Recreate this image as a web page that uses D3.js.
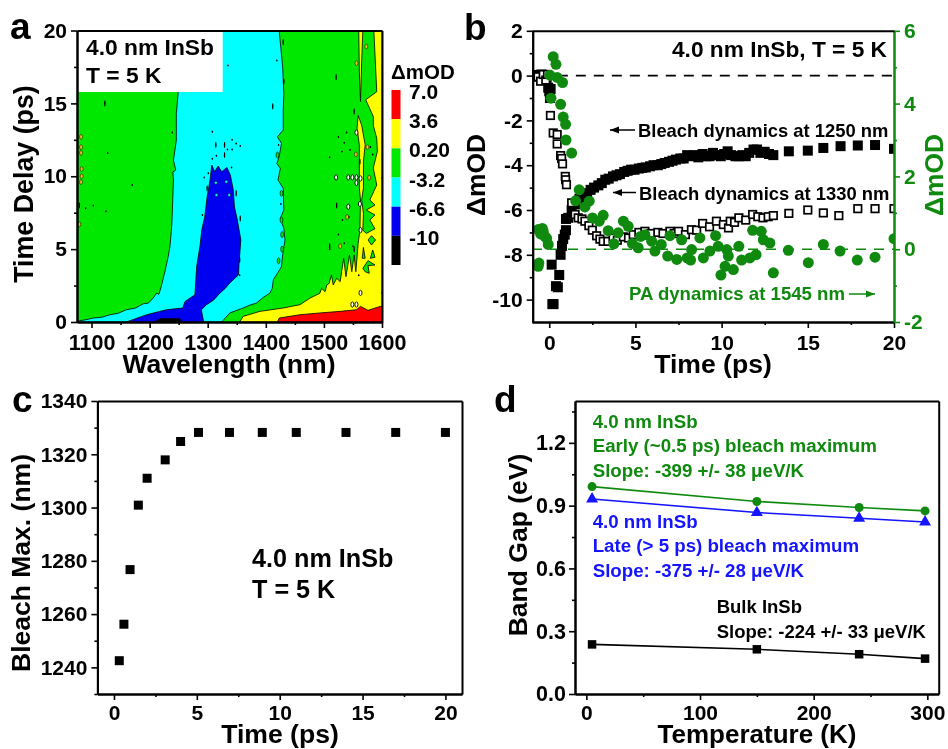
<!DOCTYPE html>
<html>
<head>
<meta charset="utf-8">
<script src="https://d3js.org/d3.v7.min.js"></script>
<style>
html, body { margin: 0; padding: 0; background: #fff; }
svg { filter: blur(0.45px); }
text { font-family: "Liberation Sans", Arial, sans-serif; font-weight: bold; }
</style>
</head>
<body>
<svg id="chart" width="948" height="749"></svg>
<script>
// panel a, contour bands as [wavelength nm, delay ps]
var cyanBand = [[1075,0],[1075,0.05],[1088,0.14],[1103,0.27],[1118,0.33],[1132,0.5],[1146,0.6],[1160,0.84],[1175,0.95],[1189,1.25],[1198,1.3],[1206,1.64],[1212,1.98],[1216,1.9],[1220,2.44],[1227,3.58],[1232,4.49],[1235,5.18],[1238,6.55],[1239,7.46],[1241,9.74],[1240,10.3],[1245,10.42],[1241,11.1],[1246,12.47],[1246,14.3],[1249,15.67],[1255,20],[1423,20],[1429,17.5],[1431,15.67],[1430,14.5],[1430,13.17],[1420,12.7],[1427,12.26],[1423,11.34],[1419,10.88],[1425,10.54],[1421,9.74],[1430,9.17],[1431,7.68],[1425,7.11],[1431,6.43],[1433,5.63],[1429,4.6],[1427,3.8],[1421,3.4],[1413,2.9],[1411,2.3],[1407,1.98],[1396,1.7],[1384,1.3],[1372,1.15],[1361,0.96],[1338,0.62],[1324,0]];
var blueBand = [[1160,0],[1195,0.5],[1229,0.84],[1257,0.96],[1261,1.41],[1278,1.87],[1281,3.81],[1287,5.3],[1290,6.36],[1295,7.23],[1299,8.6],[1304,9.74],[1307,10.77],[1312,10.31],[1318,10.7],[1324,10.31],[1333,10.6],[1339,10.08],[1344,9.06],[1346,7.9],[1351,7],[1357,5.63],[1354,4.04],[1353,3.24],[1338,2.67],[1330,2.3],[1321,1.98],[1310,1.5],[1298,1.19],[1289,0.84],[1293,0]];
var blackBand = [[1209,0],[1218,0.23],[1252,0.23],[1255,0]];
var yellowBand = [[1355,0],[1361,0.39],[1390,0.73],[1430,0.96],[1459,1.19],[1476,1.64],[1493,1.97],[1496,2.31],[1502,2.08],[1505,2.54],[1509,2.65],[1513,3.23],[1516,2.54],[1522,3],[1528,2.77],[1534,4.37],[1538,3.11],[1544,4.6],[1548,3.45],[1552,4.6],[1555,3.45],[1559,5.4],[1562,6.3],[1563,8.37],[1561,9.2],[1561,12.16],[1557,13.3],[1559,14.17],[1565,13.5],[1571,12.16],[1568,11],[1568,9.2],[1565,8.37],[1568,7.45],[1567,6.3],[1573,6.08],[1588,6.4],[1579,7],[1588,7.34],[1573,7.68],[1588,8.03],[1579,8.37],[1591,9.4],[1585,10.56],[1592,11.7],[1591,12.6],[1585,13.5],[1585,14.1],[1572,15.25],[1591,15.8],[1588,18.3],[1586,20],[1600,20],[1600,0]];
var yellowStrip = [[1560,20],[1567,20],[1565,17.9],[1563,15.13],[1561,17.2]];
var redBand = [[1420,0],[1423,0.27],[1459,0.5],[1493,0.62],[1528,0.73],[1556,0.84],[1563,1.07],[1576,0.8],[1597,1.07],[1600,1.07],[1600,0]];
var greenIslands = [
  [[1576,5.63],[1582,5.92],[1589,5.63],[1582,5.28]],
  [[1566,4.37],[1568,5.12],[1571,4.37]],
  [[1580,4.37],[1584,4.94],[1588,4.44]],
  [[1567,3.68],[1576,4.21],[1588,3.91],[1576,3.87],[1578,3.34],[1571,3.45]]
];
var darkSpecks = [[1239,13],[1335,17.6],[1419,17.95],[1308,13.06],[1308,11.2],[1315,11.4],[1342,12.5],[1349,12.25],[1356,12.07],[1334,11.84],[1342,11.84],[1341,10.6],[1294,9.92],[1301,10.2],[1291,7.34],[1422,12.14],[1426,8.1],[1531,11.7],[1545,11.8],[1510,11.3],[1535,12.3],[1525,12.7],[1539,13],[1510,5],[1535,5.4],[1525,6],[1550,5.2],[1543,7.2],[1532,7],[1355,3.2],[1090,7.8],[1103,8],[1125,7.6],[1128,11.6],[1170,9.4],[1560,3.2],[1600,2],[1600,9.9],[1580,12],[1584,11.5]];
var tallSpecks = [[1123,15],[1430,19.2],[1412,14.8],[1431,16.5],[1521,16.8],[1552,14.44],[1314,12.14],[1329,11.45],[1329,12.14],[1299,9.17],[1349,8.83],[1356,7.1],[1355,4.26],[1522,8],[1510,5.2],[1552,5],[1562,11],[1079,8]];
var whiteSpecks = [[1521,9.92],[1542,9.92],[1549,9.92],[1556,9.92],[1563,9.85],[1556,9.55],[1542,7.91],[1562,8.1],[1563,6.3],[1556,13],[1563,2],[1549,1.2],[1556,1.2]];
var orangeSpecks = [[1082,12.7],[1082,12],[1082,11.6],[1083,10.5],[1083,10],[1082,9.6],[1079,6.7],[1556,17.76],[1573,18.9],[1555,11.5],[1540,7.2],[1528,5.2],[1575,12],[1578,9.9]];
var cyanSpecks = [[1314,9.56],[1337,8.71],[1332,9.63],[1315,8.71]];
var greenSpecks = [[1420,11.45],[1427,8.83],[1427,7],[1428,6],[1422,4.2],[1428,5]];
var contourLevels = ["7.0", "3.6", "0.20", "-3.2", "-6.6", "-10"];
var contourColors = ["#ff0000", "#ffff00", "#00e800", "#00ffff", "#0000f0", "#000000"];

// panel b
var t1250 = [-0.73,-0.6,-0.45,-0.3,-0.15,-0.06,0.0,0.04,0.08,0.14,0.18,0.25,0.39,0.5,0.58,0.66,0.74,0.81,0.9,0.97,0.97,1.1,1.3,1.5,1.75,1.95,2.2,2.4,2.6,2.85,3.05,3.25,3.45,3.7,3.9,4.1,4.35,4.55,4.75,4.95,5.2,5.4,5.6,5.85,6.05,6.3,6.5,6.7,6.95,7.15,7.35,7.6,7.8,8.0,8.2,8.45,8.65,8.9,9.1,9.3,9.5,9.75,9.95,10.15,10.35,10.55,10.8,11.0,11.2,11.4,11.6,11.85,12.05,12.25,12.5,12.75,13.0,13.9,15,15.9,16.9,17.9,18.9,20];
var v1250 = [0.03,-0.05,0.05,-0.05,-0.1,-0.54,-0.7,-1.0,-0.6,-8.44,-10.2,-10.2,-9.4,-9.45,-8.9,-8.0,-7.6,-7.3,-7.1,-6.9,-6.4,-6.35,-6.0,-5.75,-5.5,-5.35,-5.25,-5.1,-5.0,-4.9,-4.8,-4.65,-4.6,-4.5,-4.45,-4.4,-4.3,-4.25,-4.2,-4.2,-4.15,-4.12,-4.1,-4.05,-4.0,-4.0,-3.95,-3.9,-3.85,-3.8,-3.75,-3.7,-3.7,-3.55,-3.6,-3.55,-3.65,-3.5,-3.6,-3.6,-3.45,-3.55,-3.6,-3.5,-3.38,-3.55,-3.6,-3.6,-3.55,-3.6,-3.45,-3.3,-3.3,-3.45,-3.4,-3.5,-3.55,-3.38,-3.35,-3.23,-3.15,-3.12,-3.1,-3.27];
var t1330 = [-0.65,-0.5,-0.35,-0.2,-0.1,0.07,0.23,0.46,0.46,0.66,0.72,0.77,0.93,0.95,1.0,1.3,1.5,1.68,1.9,2.07,2.3,2.5,2.75,2.94,3.13,3.4,3.7,3.95,4.3,4.6,4.87,5.2,5.55,5.9,6.3,6.6,7,7.25,7.5,7.9,8.25,8.55,8.9,9.3,9.7,10.1,10.4,10.5,10.75,11,11.4,11.8,12.1,12.4,12.7,13,13.9,15,15.9,16.8,17.9,18.9,20];
var v1330 = [-0.05,-0.25,0.05,-0.2,0.05,-1.78,-2.56,-2.63,-3.05,-3.57,-3.7,-3.94,-4.5,-4.65,-4.87,-5.68,-6.2,-6.35,-6.4,-6.5,-6.7,-6.9,-7.15,-7.3,-7.4,-7.4,-7.25,-7.35,-7.2,-7.25,-7.1,-7.0,-6.95,-7.05,-7,-7.05,-6.95,-7.05,-6.95,-7.1,-6.88,-6.9,-6.6,-6.75,-6.5,-6.65,-6.8,-6.5,-6.55,-6.35,-6.45,-6.2,-6.3,-6.35,-6.3,-6.25,-6.15,-6,-6.13,-6.25,-5.94,-5.94,-5.94];
var t1545 = [-0.64,-0.64,-0.6,-0.5,-0.4,-0.35,-0.25,-0.15,-0.06,0.23,0.39,0.04,0.46,0.77,0.1,0.66,0.81,0.95,0.97,1.3,1.74,1.53,2.32,2.07,3.13,2.51,2.9,3.42,4.3,4.58,4,3.75,4.82,5.16,5.55,5.3,5.94,6.13,6.5,7,6.87,7.4,7.68,8,8.26,8.2,8.74,8.94,9.32,9.8,9.65,10.39,10.3,11,9.96,10.2,10.68,11.16,11.64,12,11.8,12.3,12.42,12.8,13,13.87,15.03,15.9,16.87,17.87,18.9,20];
var v1545 = [0.54,-0.47,-0.38,0.42,0.57,0.49,0.35,0.3,0.13,5.29,5.08,4.78,4.72,4.58,4.15,3.98,3.63,3.43,3.0,2.64,1.63,1.33,1.32,1.16,0.93,0.86,0.77,0.51,0.77,0.63,0.45,0.15,0.16,0.04,0.4,0.35,0.22,-0.05,0.13,0.37,-0.19,-0.28,0.26,-0.24,-0.01,-0.3,0.31,-0.24,-0.05,0.08,0.37,-0.19,-0.01,0.08,-0.71,-0.47,-0.56,-0.3,-0.24,-0.15,0.52,0.49,0.26,0.17,-0.65,-0.03,-0.37,0.13,-0.05,-0.3,-0.22,0.29];

// panel c
var bleachTime = [0.32,0.6,0.97,1.47,2,3.09,4.02,5.1,6.97,8.95,11,14,17,20];
var bleachMax = [1242.5,1256.2,1276.7,1300.9,1311,1317.9,1324.8,1328.2,1328.2,1328.2,1328.2,1328.2,1328.2,1328.2];

// panel d
var temperature = [5,150,240,298];
var gapEarly = [0.991,0.92,0.891,0.875];
var gapLate = [0.932,0.867,0.84,0.822];
var gapBulk = [0.237,0.2135,0.19,0.169];

var GREEN = "#0f8a0f", BLUE = "#1414ff";
var svg = d3.select("#chart");

//draws the frame of a panel, minor ticks are a second axis with no labels
function addAxis(g, axisFn, scale, major, minor, size, transform, color, fmt, pad){
	var a = g.append("g").attr("transform", transform);
	a.call(axisFn(scale).tickValues(major).tickSize(6).tickSizeOuter(0).tickPadding(pad || 4).tickFormat(fmt || String));
	var b = g.append("g").attr("transform", transform);
	b.call(axisFn(scale).tickValues(minor).tickSize(3).tickSizeOuter(0).tickFormat(""));
	g.selectAll("path.domain, line").attr("fill", "none");
	[a, b].forEach(function(s){
		s.selectAll("path").attr("stroke", color).attr("stroke-width", 2);
		s.selectAll("line").attr("stroke", color).attr("stroke-width", 1.6);
		s.selectAll("text").attr("fill", color).style("font-size", size + "px");
	});
}
function spine(g, axisFn, scale, transform, color){
	var s = g.append("g").attr("transform", transform).call(axisFn(scale).tickValues([]).tickSizeOuter(0));
	s.selectAll("path").attr("stroke", color).attr("stroke-width", 2);
}
function label(txt, x, y, size, color, anchor, rotate){
	var t = svg.append("text").text(txt)
		.attr("x", rotate ? 0 : x).attr("y", rotate ? 0 : y)
		.attr("fill", color || "#000")
		.attr("text-anchor", anchor || "start")
		.style("font-size", size + "px");
	if(rotate){ t.attr("transform", "translate(" + x + "," + y + ") rotate(-90)"); }
	return t;
}
function squares(g, xs, ys, x, y, s, fill, stroke){
	g.selectAll(null).data(xs).enter().append("rect")
		.attr("x", function(d){ return x(d) - s / 2; })
		.attr("y", function(d, i){ return y(ys[i]) - s / 2; })
		.attr("width", s).attr("height", s)
		.attr("fill", fill).attr("stroke", stroke || "none").attr("stroke-width", stroke ? 1.7 : 0);
}

//---------- panel a
var xA = d3.scaleLinear().domain([1075, 1600]).range([77, 382]);
var yA = d3.scaleLinear().domain([0, 20]).range([322, 30.5]);
var a = svg.append("g");
var areaLine = d3.line().x(function(d){ return xA(d[0]); }).y(function(d){ return yA(d[1]); });
a.append("rect").attr("x", xA(1075)).attr("y", yA(20)).attr("width", xA(1600) - xA(1075)).attr("height", yA(0) - yA(20)).attr("fill", contourColors[2]);
function band(pts, fill){
	a.append("path").attr("d", areaLine(pts) + "Z").attr("fill", fill).attr("stroke", "#000").attr("stroke-width", 0.8);
}
function specks(list, rx, ry, fill, sw){
	a.selectAll(null).data(list).enter().append("ellipse")
		.attr("cx", function(d){ return xA(d[0]); }).attr("cy", function(d){ return yA(d[1]); })
		.attr("rx", rx).attr("ry", ry).attr("fill", fill).attr("stroke", "#000").attr("stroke-width", sw);
}
band(cyanBand, contourColors[3]);
band(blueBand, contourColors[4]);
band(blackBand, contourColors[5]);
band(yellowBand, contourColors[1]);
band(yellowStrip, contourColors[1]);
band(redBand, contourColors[0]);
greenIslands.forEach(function(p){ band(p, contourColors[2]); });
specks(darkSpecks, 0.8, 1, "#000", 0);
specks(tallSpecks, 0.7, 3.2, "#000", 0);
specks(orangeSpecks, 1.5, 2.4, "#e8c000", 0.5);
specks(whiteSpecks, 1.5, 2.6, "#fff", 0.9);
specks(cyanSpecks, 1.5, 1.5, contourColors[3], 0.5);
specks(greenSpecks, 1.4, 3, contourColors[2], 0.6);
a.append("rect").attr("x", 78).attr("y", 31).attr("width", 144.7).attr("height", 61).attr("fill", "#fff");
addAxis(a, d3.axisBottom, xA, [1100,1200,1300,1400,1500,1600], [1150,1250,1350,1450,1550], 21.5, "translate(0,322)", "#000", null, 7);
addAxis(a, d3.axisLeft, yA, [0,5,10,15,20], [2.5,7.5,12.5,17.5], 21, "translate(77,0)", "#000");
spine(a, d3.axisTop, xA, "translate(0,30.5)", "#000");
spine(a, d3.axisRight, yA, "translate(382,0)", "#000");

//colour scale of panel a
var yBar = d3.scaleBand().domain(contourLevels).range([90, 265]).paddingInner(0);
a.selectAll(null).data(contourLevels).enter().append("rect")
	.attr("x", 391.5).attr("width", 9)
	.attr("y", function(d){ return yBar(d); }).attr("height", yBar.bandwidth())
	.attr("fill", function(d, i){ return contourColors[i]; });
contourLevels.forEach(function(d){ label(d, 409, yBar(d) + 9, 21); });
label("\u0394mOD", 391, 79, 20.5);

label("4.0 nm InSb", 86, 55, 22.8);
label("T = 5 K", 86, 83, 22.8);
label("Wavelength (nm)", 229, 373, 26.6, "#000", "middle");
label("Time Delay (ps)", 33, 184, 26.8, "#000", "middle", true);
label("a", 10, 39, 37);

//---------- panel b
var xB = d3.scaleLinear().domain([-1, 20]).range([532, 894]);
var yB = d3.scaleLinear().domain([-11, 2]).range([322, 30.8]);
var yB2 = d3.scaleLinear().domain([-2, 6]).range([322, 30.8]);
var b = svg.append("g");
svg.append("clipPath").attr("id", "clipB").append("rect").attr("x", 532).attr("y", 30).attr("width", 362).attr("height", 292);
var bPlot = b.append("g").attr("clip-path", "url(#clipB)");
bPlot.append("line").attr("x1", xB(0.5)).attr("x2", xB(19.9)).attr("y1", yB(0)).attr("y2", yB(0))
	.attr("stroke", "#000").attr("stroke-width", 1.6).attr("stroke-dasharray", "10 8");
bPlot.append("line").attr("x1", xB(-1)).attr("x2", xB(20)).attr("y1", yB2(0)).attr("y2", yB2(0))
	.attr("stroke", GREEN).attr("stroke-width", 1.6).attr("stroke-dasharray", "10 8");
squares(bPlot, t1250, v1250, xB, yB, 10, "#000");
squares(bPlot, t1330, v1330, xB, yB, 7.5, "#fff", "#000");
bPlot.selectAll(null).data(t1545).enter().append("circle")
	.attr("cx", function(d){ return xB(d); })
	.attr("cy", function(d, i){ return yB2(v1545[i]); })
	.attr("r", 5.5).attr("fill", GREEN);
addAxis(b, d3.axisBottom, xB, [0,5,10,15,20], [2.5,7.5,12.5,17.5], 21, "translate(0,322)", "#000", null, 7);
addAxis(b, d3.axisLeft, yB, [2,0,-2,-4,-6,-8,-10], [1,-1,-3,-5,-7,-9], 21, "translate(532.7,0)", "#000");
addAxis(b, d3.axisRight, yB2, [6,4,2,0,-2], [5,3,1,-1], 21, "translate(894,0)", GREEN);
spine(b, d3.axisTop, xB, "translate(0,30.8)", "#000");

label("4.0 nm InSb, T = 5 K", 672, 57, 22.7);
label("Bleach dynamics at 1250 nm", 638, 137, 18.4);
label("Bleach dynamics at 1330 nm", 639, 200, 18.4);
label("PA dynamics at 1545 nm", 629, 300, 18.6, GREEN);
function arrow(x1, x2, y, color){
	var dir = x2 > x1 ? 1 : -1;
	svg.append("path").attr("d", "M" + x1 + "," + y + "L" + x2 + "," + y).attr("stroke", color).attr("stroke-width", 1.5);
	svg.append("path").attr("d", "M" + x2 + "," + y + "l" + (-9 * dir) + ",-3.5l0,7Z").attr("fill", color);
}
arrow(635, 610, 130, "#000");
arrow(636, 613, 192.5, "#000");
arrow(849, 875, 294, GREEN);
label("Time (ps)", 713, 373, 26.6, "#000", "middle");
label("\u0394mOD", 485, 175, 26.4, "#000", "middle", true);
label("\u0394mOD", 942.5, 175, 26.4, GREEN, "middle", true);
label("b", 464, 40, 37);

//---------- panel c
var xC = d3.scaleLinear().domain([-1, 21]).range([97.4, 462]);
var yC = d3.scaleLinear().domain([1230, 1340]).range([694, 401]);
var c = svg.append("g");
squares(c, bleachTime, bleachMax, xC, yC, 9, "#000");
addAxis(c, d3.axisBottom, xC, [0,5,10,15,20], [2.5,7.5,12.5,17.5], 21, "translate(0,694)", "#000", null, 5);
addAxis(c, d3.axisLeft, yC, [1240,1260,1280,1300,1320,1340], [1230,1250,1270,1290,1310,1330], 21, "translate(97.4,0)", "#000");
spine(c, d3.axisTop, xC, "translate(0,401)", "#000");
spine(c, d3.axisRight, yC, "translate(462,0)", "#000");
label("4.0 nm InSb", 252, 567, 25.2);
label("T = 5 K", 252, 598, 25.2);
label("Time (ps)", 280, 743, 26.6, "#000", "middle");
label("Bleach Max. (nm)", 30, 563, 26.5, "#000", "middle", true);
label("c", 12, 412, 37);

//---------- panel d
var xD = d3.scaleLinear().domain([-10, 310]).range([575, 938.7]);
var yD = d3.scaleLinear().domain([0, 1.4]).range([694, 401]);
var d = svg.append("g");
var gapLine = function(vals){
	return d3.line().x(function(v, i){ return xD(temperature[i]); }).y(function(v){ return yD(v); })(vals);
};
[[gapEarly, GREEN], [gapLate, BLUE], [gapBulk, "#000"]].forEach(function(s){
	d.append("path").attr("d", gapLine(s[0])).attr("fill", "none").attr("stroke", s[1]).attr("stroke-width", 1.6);
});
squares(d, temperature, gapBulk, xD, yD, 8.5, "#000");
d.selectAll(null).data(temperature).enter().append("circle")
	.attr("cx", function(v){ return xD(v); }).attr("cy", function(v, i){ return yD(gapEarly[i]); })
	.attr("r", 4.5).attr("fill", GREEN);
d.selectAll(null).data(temperature).enter().append("path")
	.attr("transform", function(v, i){ return "translate(" + xD(v) + "," + yD(gapLate[i]) + ")"; })
	.attr("d", d3.symbol().type(d3.symbolTriangle).size(62)).attr("fill", BLUE);
addAxis(d, d3.axisBottom, xD, [0,100,200,300], [50,150,250], 21, "translate(0,694)", "#000", null, 5);
addAxis(d, d3.axisLeft, yD, [0,0.3,0.6,0.9,1.2], [0.15,0.45,0.75,1.05,1.35], 21.5, "translate(575,0)", "#000", d3.format(".1f"), 3);
spine(d, d3.axisTop, xD, "translate(0,401)", "#000");
spine(d, d3.axisRight, yD, "translate(938.7,0)", "#000");
label("4.0 nm InSb", 592.7, 428, 18.7, GREEN);
label("Early (~0.5 ps) bleach maximum", 592.7, 452, 18.7, GREEN);
label("Slope: -399 +/- 38 \u03bceV/K", 592.7, 476.7, 18.7, GREEN);
label("4.0 nm InSb", 592.7, 528, 18.7, BLUE);
label("Late (> 5 ps) bleach maximum", 592.7, 552, 18.7, BLUE);
label("Slope: -375 +/- 28 \u03bceV/K", 592.7, 576.7, 18.7, BLUE);
label("Bulk InSb", 716.7, 613, 18.5);
label("Slope: -224 +/- 33 \u03bceV/K", 716.7, 637.7, 18.5);
label("Temperature (K)", 757, 743, 26, "#000", "middle");
label("Band Gap (eV)", 527, 545, 26.5, "#000", "middle", true);
label("d", 494, 412, 37);
</script>
</body>
</html>
